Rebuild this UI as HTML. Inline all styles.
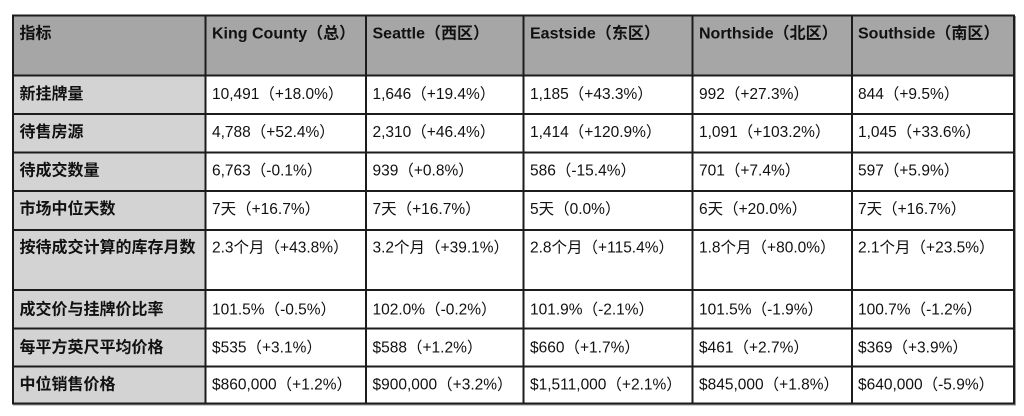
<!DOCTYPE html>
<html>
<head>
<meta charset="utf-8">
<style>
  html, body { margin: 0; padding: 0; background: #ffffff; }
  body { width: 1024px; height: 416px; overflow: hidden; }
  svg { display: block; }
  .h { font-family: "Liberation Sans", "Noto Sans CJK SC", sans-serif; font-weight: bold; font-size: 16px; fill: #111111; }
  .d { font-family: "Liberation Sans", "Noto Sans CJK SC", sans-serif; font-weight: normal; font-size: 15.5px; fill: #111111; }
</style>
</head>
<body>
<svg width="1024" height="416" viewBox="0 0 1024 416" xmlns="http://www.w3.org/2000/svg">
  <rect x="0" y="0" width="1024" height="416" fill="#ffffff"/>
  <!-- header background -->
  <rect x="13" y="15.5" width="1001" height="60" fill="#a6a6a6"/>
  <!-- first column background -->
  <rect x="13" y="75.5" width="192.5" height="328" fill="#d3d3d3"/>

  <!-- grid lines -->
  <g fill="#1c1c1c">
    <!-- verticals -->
    <rect x="12" y="14.5" width="2" height="390"/>
    <rect x="204.5" y="14.5" width="2" height="390"/>
    <rect x="365" y="14.5" width="2" height="390"/>
    <rect x="522.5" y="14.5" width="2" height="390"/>
    <rect x="691.5" y="14.5" width="2" height="390"/>
    <rect x="851" y="14.5" width="2" height="390"/>
    <rect x="1013" y="14.5" width="2" height="390"/>
    <!-- horizontals -->
    <rect x="12" y="14.5" width="1003" height="2"/>
    <rect x="12" y="74.5" width="1003" height="2"/>
    <rect x="12" y="113" width="1003" height="2"/>
    <rect x="12" y="151.5" width="1003" height="2"/>
    <rect x="12" y="190" width="1003" height="2"/>
    <rect x="12" y="229" width="1003" height="2"/>
    <rect x="12" y="289" width="1003" height="2"/>
    <rect x="12" y="327.5" width="1003" height="2"/>
    <rect x="12" y="365.5" width="1003" height="2"/>
    <rect x="12" y="402.5" width="1003" height="2"/>
  </g>
  <!-- subtle shadow -->
  <rect x="1015" y="16" width="1" height="389" fill="#9a9a9a"/>
  <rect x="13" y="404.5" width="1003" height="1" fill="#9a9a9a"/>

  <!-- header row -->
  <text class="h" x="19.5" y="38.5">指标</text>
  <text class="h" x="212" y="38.5">King County（总）</text>
  <text class="h" x="372.5" y="38.5">Seattle（西区）</text>
  <text class="h" x="530" y="38.5">Eastside（东区）</text>
  <text class="h" x="699" y="38.5">Northside（北区）</text>
  <text class="h" x="858" y="38.5">Southside（南区）</text>

  <!-- row 1 -->
  <text class="h" x="19.5" y="99">新挂牌量</text>
  <text class="d" x="212" y="99">10,491（+18.0%）</text>
  <text class="d" x="372.5" y="99">1,646（+19.4%）</text>
  <text class="d" x="530" y="99">1,185（+43.3%）</text>
  <text class="d" x="699" y="99">992（+27.3%）</text>
  <text class="d" x="858" y="99">844（+9.5%）</text>

  <!-- row 2 -->
  <text class="h" x="19.5" y="137">待售房源</text>
  <text class="d" x="212" y="137">4,788（+52.4%）</text>
  <text class="d" x="372.5" y="137">2,310（+46.4%）</text>
  <text class="d" x="530" y="137">1,414（+120.9%）</text>
  <text class="d" x="699" y="137">1,091（+103.2%）</text>
  <text class="d" x="858" y="137">1,045（+33.6%）</text>

  <!-- row 3 -->
  <text class="h" x="19.5" y="175.5">待成交数量</text>
  <text class="d" x="212" y="175.5">6,763（-0.1%）</text>
  <text class="d" x="372.5" y="175.5">939（+0.8%）</text>
  <text class="d" x="530" y="175.5">586（-15.4%）</text>
  <text class="d" x="699" y="175.5">701（+7.4%）</text>
  <text class="d" x="858" y="175.5">597（+5.9%）</text>

  <!-- row 4 -->
  <text class="h" x="19.5" y="214">市场中位天数</text>
  <text class="d" x="212" y="214">7天（+16.7%）</text>
  <text class="d" x="372.5" y="214">7天（+16.7%）</text>
  <text class="d" x="530" y="214">5天（0.0%）</text>
  <text class="d" x="699" y="214">6天（+20.0%）</text>
  <text class="d" x="858" y="214">7天（+16.7%）</text>

  <!-- row 5 (tall) -->
  <text class="h" x="19.5" y="252.5">按待成交计算的库存月数</text>
  <text class="d" x="212" y="252.5">2.3个月（+43.8%）</text>
  <text class="d" x="372.5" y="252.5">3.2个月（+39.1%）</text>
  <text class="d" x="530" y="252.5">2.8个月（+115.4%）</text>
  <text class="d" x="699" y="252.5">1.8个月（+80.0%）</text>
  <text class="d" x="858" y="252.5">2.1个月（+23.5%）</text>

  <!-- row 6 -->
  <text class="h" x="19.5" y="314.5">成交价与挂牌价比率</text>
  <text class="d" x="212" y="314.5">101.5%（-0.5%）</text>
  <text class="d" x="372.5" y="314.5">102.0%（-0.2%）</text>
  <text class="d" x="530" y="314.5">101.9%（-2.1%）</text>
  <text class="d" x="699" y="314.5">101.5%（-1.9%）</text>
  <text class="d" x="858" y="314.5">100.7%（-1.2%）</text>

  <!-- row 7 -->
  <text class="h" x="19.5" y="352.5">每平方英尺平均价格</text>
  <text class="d" x="212" y="352.5">$535（+3.1%）</text>
  <text class="d" x="372.5" y="352.5">$588（+1.2%）</text>
  <text class="d" x="530" y="352.5">$660（+1.7%）</text>
  <text class="d" x="699" y="352.5">$461（+2.7%）</text>
  <text class="d" x="858" y="352.5">$369（+3.9%）</text>

  <!-- row 8 -->
  <text class="h" x="19.5" y="389.5">中位销售价格</text>
  <text class="d" x="212" y="389.5">$860,000（+1.2%）</text>
  <text class="d" x="372.5" y="389.5">$900,000（+3.2%）</text>
  <text class="d" x="530" y="389.5">$1,511,000（+2.1%）</text>
  <text class="d" x="699" y="389.5">$845,000（+1.8%）</text>
  <text class="d" x="858" y="389.5">$640,000（-5.9%）</text>
</svg>
</body>
</html>
